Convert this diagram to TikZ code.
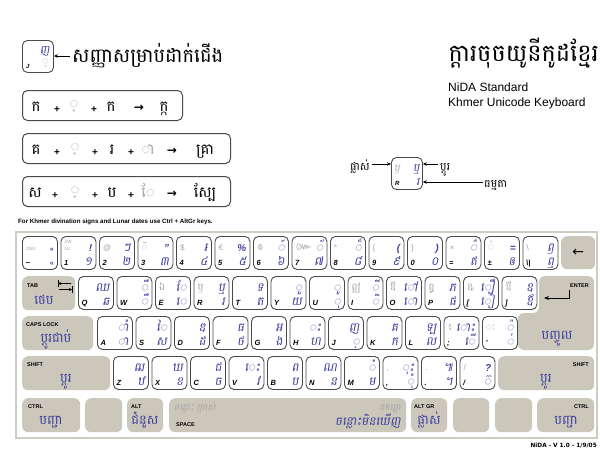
\documentclass[tikz,border=0pt]{standalone}
\usepackage{fontspec}
\setmainfont{Liberation Sans}
\newfontfamily\km[Script=Khmer]{Battambang}
\newfontfamily\kmsl[Script=Khmer,FakeSlant=0.18]{Battambang}
\newfontfamily\dvs{DejaVu Sans}
\usetikzlibrary{arrows.meta,calc}
\definecolor{kblue}{HTML}{3D3D9E}
\definecolor{kgray}{HTML}{A5A5A5}
\definecolor{keyline}{HTML}{4A4A4A}
\definecolor{sfill}{HTML}{CBC7BB}
\definecolor{framec}{HTML}{CFCCC2}
\newcommand\KL{\normalfont\fontsize{7.5}{8}\selectfont\bfseries\itshape}
\newcommand\KM{\kmsl\fontsize{12}{12}\selectfont}
\newcommand\KA{\km\fontsize{10}{10}\selectfont}
\newcommand\LB[1]{{\normalfont\fontsize{10}{10}\selectfont\bfseries\itshape #1}}
\newcommand\LBs[1]{{\normalfont\fontsize{7}{7}\selectfont\bfseries #1}}
\newcommand\LG[1]{{\normalfont\fontsize{8}{8}\selectfont #1}}
\newcommand\LGs[1]{{\normalfont\fontsize{4.5}{4.5}\selectfont #1}}
\newcommand\SL{\normalfont\fontsize{5.5}{6}\selectfont\bfseries}
\newcommand\kkey[7]{%
  \node[kbox] (#1) at (#2,#3) {};
  \node[klat] (#1-a) at ([shift={(3.5pt,4pt)}]#1.south west) {#4};
  \node[kmain] (#1-b) at ([shift={(-4pt,4pt)}]#1.south east) {#5};
  \node[kmain] (#1-c) at ([shift={(-4pt,-15pt)}]#1.north east) {#6};
  \node[kalt] (#1-d) at ([shift={(4pt,-14pt)}]#1.north west) {#7};
}
\newcommand\skey[5]{\node[sbox, minimum width=#4pt, minimum height=#5pt] (#1) at (#2,#3) {};}
\newcommand\fitem[4]{\node[fitem, #4] (#1) at (#2) {#3};}
\tikzset{
  kbox/.style={draw=keyline, line width=0.9pt, rounded corners=5pt, fill=white,
    minimum width=35pt, minimum height=33pt, anchor=north west, inner sep=0pt},
  klat/.style={anchor=base west, inner sep=0pt, font=\KL},
  kmain/.style={anchor=base east, inner sep=0pt, text=kblue, font=\KM},
  kalt/.style={anchor=base west, inner sep=0pt, text=kgray, font=\KA},
  sbox/.style={fill=sfill, rounded corners=6pt, anchor=north west, inner sep=0pt},
  slabel/.style={anchor=base west, inner sep=0pt, font=\SL},
  sname/.style={anchor=base, inner sep=0pt, text=kblue, font=\km\fontsize{13}{13}\selectfont},
  fbox/.style={draw=keyline, line width=1pt, rounded corners=5pt, fill=white, anchor=north west, inner sep=0pt},
  fitem/.style={anchor=base, inner sep=0pt, font=\km\fontsize{15}{15}\selectfont},
  plus/.style={font=\normalfont\fontsize{10}{10}\selectfont\bfseries},
  coeng/.style={text=kgray},
  farrow/.style={font=\dvs\bfseries\fontsize{12}{12}\selectfont},
  legarrow/.style={-{Stealth[length=4pt,width=3.5pt]}, line width=0.8pt},
  tabarrow/.style={-{Stealth[length=3pt,width=3pt]}, line width=0.8pt},
}
\begin{document}
\begin{tikzpicture}[x=1pt,y=-1pt]
\useasboundingbox (0,0) rectangle (600,451);
\fill[white] (0,0) rectangle (600,451);

% ---------- legend 1 ----------
\node[kbox, minimum width=31pt, minimum height=32pt] (leg1) at (22,40) {};
\node[kmain, font=\kmsl\fontsize{11}{11}\selectfont] (leg1-c) at ([shift={(-4pt,-13pt)}]leg1.north east) {ញ};
\node[klat, font=\normalfont\fontsize{6}{6}\selectfont\bfseries\itshape] (leg1-a) at ([shift={(4pt,4pt)}]leg1.south west) {J};
\node[kmain, text=kgray, font=\km\fontsize{11}{11}\selectfont] (leg1-b) at ([shift={(-5pt,8pt)}]leg1.south east) {្};
\node[anchor=base west, inner sep=0pt, font=\km\fontsize{19.5}{20}\selectfont] (leg1t) at (72,62) {សញ្ញាសម្រាប់ដាក់ជើង};
\coordinate (leg1s) at (70,56);
\draw[legarrow] (leg1s) -- (leg1.east |- leg1s);

% ---------- formulas ----------
\node[fbox, minimum width=160pt, minimum height=30pt] (f1) at (22,90) {};
\fitem{f1a}{36,111}{ក}{}
\fitem{f1b}{57,112}{+}{plus}
\fitem{f1c}{74,108}{្}{coeng}
\fitem{f1d}{94,112}{+}{plus}
\fitem{f1e}{111,111}{ក}{}
\fitem{f1f}{139,111}{→}{farrow}
\fitem{f1g}{164,111}{ក្ក}{}

\node[fbox, minimum width=208pt, minimum height=30pt] (f2) at (22,133) {};
\fitem{f2a}{36,154}{គ}{}
\fitem{f2b}{57,155}{+}{plus}
\fitem{f2c}{75,151}{្}{coeng}
\fitem{f2d}{95,155}{+}{plus}
\fitem{f2e}{112,154}{រ}{}
\fitem{f2f}{131,155}{+}{plus}
\fitem{f2g}{148,154}{ា}{coeng}
\fitem{f2h}{172,154}{→}{farrow}
\fitem{f2i}{205,154}{គ្រា}{}

\node[fbox, minimum width=208pt, minimum height=30pt] (f3) at (22,176) {};
\fitem{f3a}{35,197}{ស}{}
\fitem{f3b}{55,198}{+}{plus}
\fitem{f3c}{75,194}{្}{coeng}
\fitem{f3d}{95,198}{+}{plus}
\fitem{f3e}{112,197}{ប}{}
\fitem{f3f}{131,198}{+}{plus}
\fitem{f3g}{148,197}{ែ}{coeng}
\fitem{f3h}{172,197}{→}{farrow}
\fitem{f3i}{205,197}{ស្បែ}{}

% ---------- title ----------
\node[anchor=base east, inner sep=0pt, font=\km\fontsize{24}{24}\selectfont] (title) at (599,61) {ក្ដារចុចយូនីកូដខ្មែរ};
\node[anchor=base west, inner sep=0pt, font=\normalfont\fontsize{12}{12}\selectfont] (std) at (448,91) {NiDA Standard};
\node[anchor=base west, inner sep=0pt, font=\normalfont\fontsize{12}{12}\selectfont] (kuk) at (448,106) {Khmer Unicode Keyboard};

% ---------- legend 2 ----------
\node[kbox, minimum width=31pt, minimum height=32pt] (leg2) at (391,157) {};
\node[kalt, font=\kmsl\fontsize{10}{10}\selectfont] (leg2-d) at ([shift={(3pt,-14pt)}]leg2.north west) {ឫ};
\node[kmain, font=\kmsl\fontsize{11}{11}\selectfont] (leg2-c) at ([shift={(-3pt,-14pt)}]leg2.north east) {ឬ};
\node[klat, font=\normalfont\fontsize{6}{6}\selectfont\bfseries\itshape] (leg2-a) at ([shift={(4pt,4pt)}]leg2.south west) {R};
\node[kmain, font=\kmsl\fontsize{11}{11}\selectfont] (leg2-b) at ([shift={(-3pt,4pt)}]leg2.south east) {រ};
\node[anchor=base east, inner sep=0pt, font=\km\fontsize{11}{11}\selectfont] (alt) at (370,170) {ផ្លាស់};
\node[anchor=base west, inner sep=0pt, font=\km\fontsize{11}{11}\selectfont] (shf) at (440,170) {ប្ដូរ};
\node[anchor=base west, inner sep=0pt, font=\km\fontsize{11}{11}\selectfont] (nrm) at (484,187) {ធម្មតា};
\coordinate (alts) at (372,164);
\coordinate (shfs) at (438,164);
\coordinate (nrms) at (483,182);
\draw[legarrow] (alts) -- (leg2.west |- alts);
\draw[legarrow] (shfs) -- (leg2.east |- shfs);
\draw[legarrow] (nrms) -- (leg2.east |- nrms);

\node[anchor=base west, inner sep=0pt, font=\normalfont\fontsize{6.2}{7}\selectfont\bfseries] (note) at (18,223) {For Khmer divination signs and Lunar dates use Ctrl + AltGr keys.};

% ---------- keyboard frame ----------
\draw[draw=framec, line width=2.5pt, fill=white] (16,232) rectangle (597,438);

% row 1
\kkey{kq1}{22}{236}{\textasciitilde}{\LBs{<<}}{\LBs{>>}}{\LGs{ZWJ}}
\kkey{k1}{60.5}{236}{1}{១}{\LB{!}}{\LGs{\shortstack[l]{ZW\\NJ}}}
\kkey{k2}{99}{236}{2}{២}{ៗ}{\LG{@}}
\kkey{k3}{137.5}{236}{3}{៣}{\LB{"}}{៑}
\kkey{k4}{176}{236}{4}{៤}{៛}{\LG{\$}}
\kkey{k5}{214.5}{236}{5}{៥}{\LB{\%}}{\LG{€}}
\kkey{k6}{253}{236}{6}{៦}{៍}{៙}
\kkey{k7}{291.5}{236}{7}{៧}{័}{៚}
\kkey{k8}{330}{236}{8}{៨}{៏}{\LG{*}}
\kkey{k9}{368.5}{236}{9}{៩}{\LB{(}}{\LG{\{}}
\kkey{k0}{407}{236}{0}{០}{\LB{)}}{\LG{\}}}
\kkey{kmin}{445.5}{236}{=}{ឥ}{៌}{\LG{×}}
\kkey{keq}{484}{236}{±}{ឲ}{\LB{=}}{៎}
\kkey{kbsl}{522.5}{236}{\textbackslash\textbar}{ឮ}{ឭ}{\LG{\textbackslash}}
\skey{kbsp}{561}{236}{34}{33}
\node[inner sep=0pt, font=\dvs\fontsize{14}{14}\selectfont] (kbsp-t) at (kbsp.center) {←};

% row 2
\skey{ktab}{22}{276}{53}{34}
\node[slabel] (ktab-l) at (27,287) {TAB};
\coordinate (tb1) at (58,280);
\coordinate (tb2) at (58,287);
\coordinate (tb3) at (71,283.5);
\coordinate (tb4) at (72,286);
\coordinate (tb5) at (72,293);
\coordinate (tb6) at (59,289.5);
\draw[line width=0.9pt] (tb1) -- (tb2);
\draw[tabarrow] (tb3) -- (tb1 |- tb3);
\draw[line width=0.9pt] (tb4) -- (tb5);
\draw[tabarrow] (tb6) -- (tb4 |- tb6);
\node[sname] (ktab-n) at (44,304) {ថេប};
\kkey{kQ}{78}{276}{Q}{ឆ}{ឈ}{}
\kkey{kW}{116.5}{276}{W}{ឹ}{ឺ}{}
\kkey{kE}{155}{276}{E}{េ}{ែ}{ឯ}
\kkey{kR}{193.5}{276}{R}{រ}{ឬ}{ឫ}
\kkey{kT}{232}{276}{T}{ត}{ទ}{}
\kkey{kY}{270.5}{276}{Y}{យ}{ួ}{}
\kkey{kU}{309}{276}{U}{ុ}{ូ}{}
\kkey{kI}{347.5}{276}{I}{ិ}{ី}{ឦ}
\kkey{kO}{386}{276}{O}{ោ}{ៅ}{ឱ}
\kkey{kP}{424.5}{276}{P}{ផ}{ភ}{ឰ}
\kkey{kLB}{463}{276}{[}{ៀ}{ឿ}{ឩ}
\kkey{kRB}{501.5}{276}{]}{ឪ}{ឧ}{ឳ}
\fill[sfill, rounded corners=6pt] (539,276) -- (594,276) -- (594,350) -- (518,350) -- (518,313) -- (539,313) -- cycle;
\node[anchor=base east, inner sep=0pt, font=\SL] (kent-l) at (589,287) {ENTER};
\coordinate (ent1) at (569,290);
\coordinate (ent2) at (569,298);
\coordinate (ent3) at (544,298);
\draw[line width=1pt, -{Stealth[length=5pt,width=4pt]}] (ent1) -- (ent2) -- (ent3);
\node[sname] (kent-n) at (557,339) {បញ្ចូល};

% row 3
\skey{kcaps}{22}{316}{71}{34}
\node[slabel] (kcaps-l) at (26,326) {CAPS LOCK};
\node[sname] (kcaps-n) at (56,342) {ប្ដូរជាប់};
\kkey{kA}{97}{316}{A}{ា}{ាំ}{}
\kkey{kS}{135.5}{316}{S}{ស}{ៃ}{}
\kkey{kD}{174}{316}{D}{ដ}{ឌ}{}
\kkey{kF}{212.5}{316}{F}{ថ}{ធ}{}
\kkey{kG}{251}{316}{G}{ង}{អ}{}
\kkey{kH}{289.5}{316}{H}{ហ}{ះ}{}
\kkey{kJ}{328}{316}{J}{្}{ញ}{}
\kkey{kK}{366.5}{316}{K}{ក}{គ}{}
\kkey{kL}{405}{316}{L}{ល}{ឡ}{}
\kkey{kSC}{443.5}{316}{;}{ើ}{ោះ}{៖}
\kkey{kAP}{482}{316}{'}{់}{៉}{ៈ}

% row 4
\skey{kshl}{22}{356}{88}{34}
\node[slabel] (kshl-l) at (27,366) {SHIFT};
\node[sname] (kshl-n) at (66,382) {ប្ដូរ};
\kkey{kZ}{113}{356}{Z}{ឋ}{ឍ}{}
\kkey{kX}{151.5}{356}{X}{ខ}{ឃ}{}
\kkey{kC}{190}{356}{C}{ច}{ជ}{}
\kkey{kV}{228.5}{356}{V}{វ}{េះ}{}
\kkey{kB}{267}{356}{B}{ប}{ព}{}
\kkey{kN}{305.5}{356}{N}{ន}{ណ}{}
\kkey{kM}{344}{356}{M}{ម}{ំ}{}
\kkey{kCM}{382.5}{356}{,}{ុំ}{ុះ}{\LG{,}}
\kkey{kPD}{421}{356}{.}{។}{៕}{\LG{.}}
\kkey{kSL}{459.5}{356}{/}{៊}{\LB{?}}{\LG{/}}
\skey{kshr}{498}{356}{96}{34}
\node[anchor=base east, inner sep=0pt, font=\SL] (kshr-l) at (589,366) {SHIFT};
\node[sname] (kshr-n) at (546,382) {ប្ដូរ};

% row 5
\skey{kctl}{22}{398}{58}{34}
\node[slabel] (kctl-l) at (28,408) {CTRL};
\node[sname] (kctl-n) at (51,424) {បញ្ជា};
\skey{kwin}{85}{398}{37}{34}
\skey{kalt}{127}{398}{36}{34}
\node[slabel] (kalt-l) at (131,408) {ALT};
\node[sname] (kalt-n) at (145,424) {ជំនួស};
\skey{kspc}{169}{398}{237}{34}
\node[anchor=base west, inner sep=0pt, text=kgray, font=\kmsl\fontsize{9}{9}\selectfont] (kspc-d) at (174,410) {ចន្លោះ ក្រាស់};
\node[slabel] (kspc-l) at (176,426) {SPACE};
\node[anchor=base east, inner sep=0pt, text=kgray, font=\kmsl\fontsize{9}{9}\selectfont] (kspc-c) at (401,410) {ដកឃ្លា};
\node[anchor=base east, inner sep=0pt, text=kblue, font=\kmsl\fontsize{12}{12}\selectfont] (kspc-b) at (401,425) {ចន្លោះមិនឃើញ};
\skey{kagr}{411}{398}{36}{34}
\node[slabel] (kagr-l) at (414,408) {ALT GR};
\node[sname] (kagr-n) at (429,424) {ផ្លាស់};
\skey{kmenu}{453}{398}{36}{34}
\skey{kwin2}{495}{398}{37}{34}
\skey{kctr}{537}{398}{57}{34}
\node[anchor=base east, inner sep=0pt, font=\SL] (kctr-l) at (589,408) {CTRL};
\node[sname] (kctr-n) at (566,424) {បញ្ជា};

\node[anchor=base east, inner sep=0pt, font=\dvs\bfseries\fontsize{5.8}{6}\selectfont] (foot) at (597,447) {NiDA - V 1.0 - 1/9/05};
\end{tikzpicture}
\end{document}
